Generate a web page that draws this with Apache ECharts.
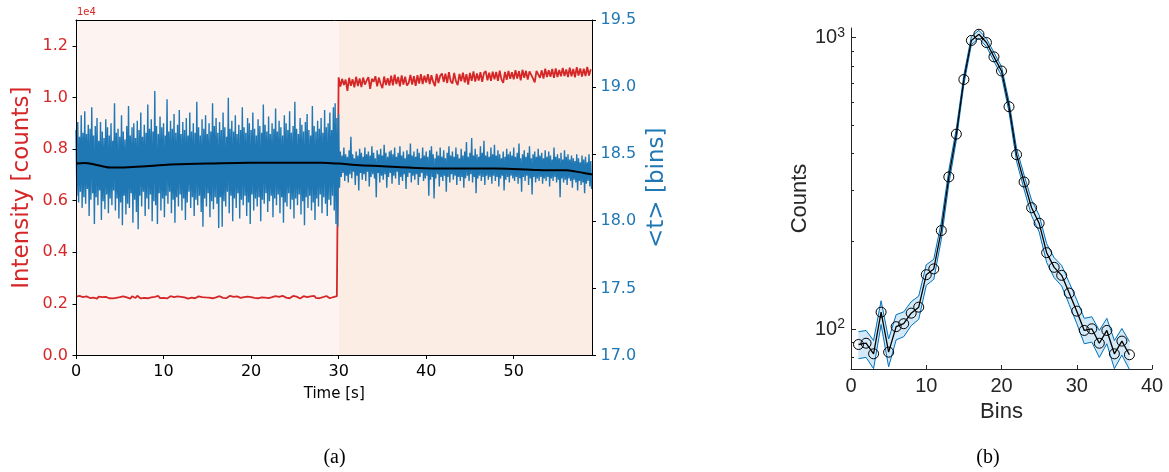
<!DOCTYPE html>
<html>
<head>
<meta charset="utf-8">
<script src="https://cdn.jsdelivr.net/npm/echarts@6.0.0/dist/echarts.min.js"></script>
<style>
html,body{margin:0;padding:0;background:#fff;}
#main{width:1169px;height:472px;}
</style>
</head>
<body>
<div id="main"></div>
<script>
// ---- panel (a) ----
var lifeStep = 0.1;   // s between <t> samples
var lifetime = [
 18.68,18.19,18.74,18.14,18.63,18.22,18.79,18.10,18.66,18.18,
 18.82,18.13,18.65,18.24,18.72,18.04,18.69,18.16,18.85,18.21,
 18.64,17.98,18.71,18.18,18.77,18.12,18.60,18.23,18.74,18.01,
 18.67,18.15,18.62,18.09,18.76,18.20,18.70,18.06,18.64,18.17,
 18.73,18.12,18.60,18.23,18.88,18.08,18.66,18.17,18.69,18.02,
 18.63,18.14,18.79,17.97,18.67,18.19,18.61,18.05,18.71,18.13,
 18.86,18.10,18.64,18.21,18.70,17.99,18.73,18.16,18.62,18.07,
 18.75,17.94,18.68,18.19,18.81,18.11,18.63,18.22,18.72,18.04,
 18.66,18.17,18.87,18.09,18.69,18.20,18.76,18.00,18.67,18.15,
 18.97,18.12,18.71,17.98,18.65,18.21,18.78,18.08,18.70,18.17,
 18.73,18.03,18.64,18.19,18.91,18.13,18.67,18.22,18.75,18.06,
 18.69,18.16,18.80,17.99,18.66,18.18,18.72,18.11,18.83,18.20,
 18.65,18.08,18.74,18.17,18.68,18.01,18.77,18.14,18.64,18.22,
 18.81,18.10,18.67,18.18,18.73,18.04,18.66,18.16,18.89,18.12,
 18.70,18.19,18.64,18.07,18.76,17.96,18.69,18.17,18.79,18.11,
 18.65,18.21,18.73,18.03,18.67,18.15,18.88,18.09,18.71,18.18,
 18.77,18.13,18.66,17.95,18.74,18.18,18.68,17.96,18.81,18.15,
 18.70,18.11,18.63,18.22,18.92,18.06,18.69,18.19,18.75,18.00,
 18.67,18.17,18.79,18.10,18.65,18.21,18.72,18.02,18.68,18.16,
 18.85,18.12,18.70,18.19,18.66,18.04,18.77,18.14,18.73,17.98,
 18.68,18.20,18.81,18.08,18.69,18.17,18.64,18.11,18.76,18.18,
 18.71,18.00,18.66,18.16,18.87,18.13,18.72,18.21,18.67,18.07,
 18.78,18.15,18.65,18.19,18.73,18.03,18.69,18.17,18.84,18.12,
 18.67,18.20,18.75,18.06,18.70,18.18,18.64,17.99,18.79,18.14,
 18.73,18.11,18.68,18.21,18.82,18.09,18.66,18.16,18.71,18.02,
 18.89,18.17,18.69,18.12,18.65,18.20,18.77,18.05,18.72,18.15,
 18.67,17.97,18.74,18.18,18.80,18.10,18.68,18.19,18.64,18.08,
 18.86,18.14,18.71,18.01,18.67,18.17,18.75,18.11,18.69,18.20,
 18.77,18.06,18.66,18.18,18.83,18.13,18.70,18.04,18.73,18.16,
 18.81,18.12,18.68,18.19,18.85,18.08,18.88,17.98,18.77,17.96,
 18.80,18.25,18.52,18.33,18.49,18.36,18.55,18.30,18.50,18.34,
 18.48,18.29,18.53,18.35,18.63,18.32,18.50,18.37,18.47,18.27,
 18.52,18.34,18.49,18.23,18.54,18.36,18.51,18.31,18.48,18.35,
 18.55,18.30,18.50,18.37,18.52,18.26,18.49,18.33,18.56,18.35,
 18.51,18.32,18.47,18.18,18.53,18.36,18.50,18.29,18.54,18.34,
 18.49,18.31,18.57,18.35,18.51,18.25,18.48,18.33,18.52,18.36,
 18.53,18.28,18.50,18.34,18.55,18.32,18.48,18.37,18.51,18.27,
 18.56,18.33,18.49,18.30,18.52,18.35,18.47,18.24,18.53,18.33,
 18.50,18.36,18.58,18.29,18.49,18.34,18.52,18.31,18.48,18.35,
 18.54,18.27,18.51,18.33,18.47,18.36,18.55,18.30,18.49,18.32,
 18.52,18.34,18.48,18.19,18.53,18.31,18.56,18.33,18.50,18.17,
 18.47,18.32,18.52,18.35,18.49,18.26,18.55,18.33,18.48,18.30,
 18.53,18.34,18.47,18.22,18.51,18.33,18.56,18.29,18.49,18.35,
 18.52,18.31,18.48,18.34,18.55,18.27,18.50,18.33,18.47,18.30,
 18.54,18.33,18.49,18.25,18.52,18.32,18.59,18.34,18.48,18.30,
 18.51,18.35,18.62,18.29,18.49,18.33,18.54,18.21,18.50,18.32,
 18.48,18.34,18.56,18.30,18.51,18.33,18.60,18.27,18.49,18.34,
 18.52,18.31,18.48,18.33,18.55,18.28,18.50,18.34,18.57,18.30,
 18.49,18.33,18.53,18.26,18.50,18.32,18.47,18.34,18.52,18.23,
 18.48,18.31,18.54,18.33,18.50,18.29,18.52,18.34,18.49,18.32,
 18.55,18.30,18.48,18.33,18.51,18.28,18.58,18.32,18.47,18.22,
 18.50,18.33,18.53,18.30,18.48,18.34,18.51,18.27,18.56,18.32,
 18.47,18.20,18.50,18.33,18.52,18.29,18.48,18.32,18.54,18.30,
 18.49,18.33,18.51,18.28,18.47,18.32,18.53,18.30,18.48,18.33,
 18.52,18.26,18.49,18.32,18.46,18.30,18.55,18.33,18.48,18.29,
 18.50,18.31,18.47,18.18,18.51,18.32,18.46,18.29,18.53,18.31,
 18.48,18.27,18.50,18.32,18.46,18.30,18.49,18.25,18.47,18.31,
 18.45,18.29,18.50,18.23,18.47,18.30,18.44,18.27,18.49,18.29,
 18.46,18.21,18.48,18.28,18.44,18.30,18.50,18.26,18.45,18.24
];

var intensityStep = 0.2;   // s between intensity samples
var intensity = [
 2282,2218,2306,2234,2266,2194,2290,2250,2226,2298,
 2242,2274,2202,2282,2234,2258,2186,2274,2242,2218,
 2266,2210,2282,2234,2194,2258,2242,2290,2218,2250,
 2274,2202,2298,2242,2226,2314,2250,2210,2282,2234,
 2258,2218,2290,2250,2202,2274,2242,2306,2226,2266,
 2234,2282,2210,2258,2298,2234,2266,2218,2290,2250,
 2274,2226,2250,2298,2202,2266,2242,2282,2218,2258,
 2290,2234,2266,2194,2250,2306,2242,2274,2218,2282,
 2250,2210,2298,2258,2234,2282,2226,2266,2314,2242,
 2274,2218,2290,2250,2234,2298,2258,2210,2282,2242,
 2266,2322,2234,2274,2218,2290,2250,2306,2242,2266,
 2226,2282,2258,2210,2298,2250,2274,2234,2314,2258,
 2242,2290,2218,2266,2306,2234,2282,2250,2210,2274,
 2298,2242,2266,2226,2290,2250,2314,2234,2274,2218,
 2282,2258,2234,2306,2250,2218,2290,2266,2242,2298,
 10780,10420,10720,10480,10690,10250,10760,10450,10700,10390,
 10800,10440,10740,10400,10770,10500,10650,10790,10330,10720,
 10610,10820,10430,10770,10520,10360,10810,10480,10740,10460,
 10840,10470,10880,10520,10790,10430,10850,10500,10800,10460,
 10560,10870,10500,10820,10450,10860,10540,10900,10520,10840,
 10580,10900,10520,10860,10600,10440,10910,10560,10840,10930,
 10600,10920,10560,10980,10620,10540,10950,10630,10480,10910,
 10630,10960,10580,10900,10500,10950,10640,11010,10610,10930,
 10650,10980,10600,10940,11020,10660,10960,10640,11000,10700,
 10990,10640,11040,10700,10560,10990,10680,11030,10720,10980,
 10700,11060,10730,11020,10660,11070,10760,11030,10690,11010,
 11060,10740,10580,11030,11090,10760,11050,10730,11110,10790,
 11050,10800,11100,10760,11120,10790,11060,10820,11140,10830,
 11080,10790,11150,10820,11100,10780,11170,10850,11120,10810,
 11110,10830,11180,10850,11090
];

// smoothed <t> trend, [time, bins]
var trend = [
 [0,18.43],[1,18.435],[2,18.425],[3,18.41],[4,18.40],[5,18.40],[6,18.402],
 [8,18.41],[10,18.42],[15,18.43],[20,18.437],[25,18.437],[28,18.436],
 [30,18.43],[32,18.42],[35,18.41],[38,18.40],[42,18.393],[48,18.393],
 [52,18.385],[54,18.38],[56,18.38],[57,18.372],[58,18.36],[59,18.348]
];

var regionNames = ['NE10A', 'NENIR40A-C'];
var regionEdges = [0, 30, 59];
var regionColors = ['#fdf4f1', '#fbede4'];

// ---- panel (b) ----
var bins = [1,2,3,4,5,6,7,8,9,10,11,12,13,14,15,16,17,18,19,20,21,22,23,24,25,26,27,28,29,30,31,32,33,34,35,36,37];
var counts = [88.6,89.5,82.3,114.4,83.4,102,104.4,113.5,119,153.8,161,218,333,467,719,979,1028,963,860,769,580,397,320,261,231,183,163,153,133,115.3,99,100.3,89.5,99,82.3,91,81.7];
var countsLow = [79.2,80.0,73.2,103.7,74.3,91.9,94.2,102.8,108.1,141.4,148.3,203.2,314.8,445.4,692.2,947.7,995.9,932.0,830.7,741.3,555.9,377.1,302.1,244.8,215.8,169.5,150.2,140.6,121.5,104.6,89.1,90.3,80.0,89.1,73.2,81.5,72.7];
var countsHigh = [98.0,99.0,91.4,125.1,92.5,112.1,114.6,124.2,129.9,166.2,173.7,232.8,351.2,488.6,745.8,1010.3,1060.1,994.0,889.3,796.7,604.1,416.9,337.9,277.2,246.2,196.5,175.8,165.4,144.5,126.0,108.9,110.3,99.0,108.9,91.4,100.5,90.7];

var red = '#d62728', blue = '#1f77b4', mblue = '#0072bd';
var dv = 'DejaVu Sans', lib = 'Liberation Sans';

var lifeData = lifetime.map(function (v, i) { return [+(i * lifeStep).toFixed(1), v]; });
var intData = intensity.map(function (v, i) { return [+(i * intensityStep).toFixed(1), v]; });
var areas = regionNames.map(function (n, i) {
    return [{ xAxis: regionEdges[i], itemStyle: { color: regionColors[i], opacity: 1 } }, { xAxis: regionEdges[i + 1] }];
});
var pair = function (ys) { return bins.map(function (b, i) { return [b, ys[i]]; }); };

// shaded band between low and high, one quad per bin step
function bandItem(params, api) {
    var i = params.dataIndex;
    if (i >= bins.length - 1) return null;
    var pts = [
        api.coord([bins[i], countsLow[i]]),
        api.coord([bins[i + 1], countsLow[i + 1]]),
        api.coord([bins[i + 1], countsHigh[i + 1]]),
        api.coord([bins[i], countsHigh[i]])
    ];
    return {
        type: 'polygon',
        shape: { points: pts },
        style: { fill: '#d3e9f7', stroke: '#d3e9f7', lineWidth: 0.5 }
    };
}

var chart = echarts.init(document.getElementById('main'), null, { renderer: 'canvas' });
var option = {
    animation: false,
    backgroundColor: '#fff',
    grid: [
        { left: 76, top: 20, width: 516.5, height: 335.5 },
        { left: 851, top: 28, width: 301, height: 341 }
    ],
    xAxis: [
        {
            gridIndex: 0, type: 'value', min: 0, max: 59, position: 'bottom', z: 10,
            axisLine: { show: true, onZero: false, lineStyle: { color: '#000', width: 1 } },
            axisTick: { length: 3.5, lineStyle: { color: '#000' }, customValues: [0, 10, 20, 30, 40, 50] },
            axisLabel: { color: '#000', fontSize: 16, fontFamily: dv, margin: 8, customValues: [0, 10, 20, 30, 40, 50] },
            splitLine: { show: false },
            name: 'Time [s]', nameLocation: 'middle', nameGap: 31,
            nameTextStyle: { color: '#000', fontSize: 15, fontFamily: dv }
        },
        {
            gridIndex: 0, type: 'value', min: 0, max: 59, position: 'top', z: 10,
            axisLine: { show: true, onZero: false, lineStyle: { color: '#000', width: 1 } },
            axisTick: { show: false }, axisLabel: { show: false }, splitLine: { show: false }
        },
        {
            gridIndex: 1, type: 'value', min: 0, max: 40, interval: 10,
            axisLine: { show: true, onZero: false, lineStyle: { color: '#262626', width: 1 } },
            axisTick: { inside: true, length: 4, lineStyle: { color: '#262626' } },
            axisLabel: { color: '#262626', fontSize: 20, fontFamily: lib, margin: 7 },
            splitLine: { show: false },
            name: 'Bins', nameLocation: 'middle', nameGap: 29,
            nameTextStyle: { color: '#262626', fontSize: 22, fontFamily: lib }
        }
    ],
    yAxis: [
        {
            gridIndex: 0, type: 'value', min: 0, max: 13000, interval: 2000, z: 10,
            axisLine: { show: true, onZero: false, lineStyle: { color: '#000', width: 1 } },
            axisTick: { show: true, length: 3.5, lineStyle: { color: '#000' }, customValues: [0, 2000, 4000, 6000, 8000, 10000, 12000] },
            axisLabel: {
                color: red, fontSize: 16, fontFamily: dv, margin: 8,
                customValues: [0, 2000, 4000, 6000, 8000, 10000, 12000],
                formatter: function (v) { return (v / 1e4).toFixed(1); }
            },
            splitLine: { show: false },
            name: 'Intensity [counts]', nameLocation: 'middle', nameGap: 42, nameRotate: 90,
            nameTextStyle: { color: red, fontSize: 23, fontFamily: dv }
        },
        {
            gridIndex: 0, type: 'value', position: 'right', min: 17, max: 19.5, interval: 0.5, z: 10,
            axisLine: { show: true, onZero: false, lineStyle: { color: '#000', width: 1 } },
            axisTick: { show: true, length: 3.5, lineStyle: { color: '#000' } },
            axisLabel: { color: blue, fontSize: 16, fontFamily: dv, margin: 8, formatter: function (v) { return v.toFixed(1); } },
            splitLine: { show: false },
            name: '<t> [bins]', nameLocation: 'middle', nameGap: 53, nameRotate: 90,
            nameTextStyle: { color: blue, fontSize: 23, fontFamily: dv }
        },
        {
            gridIndex: 1, type: 'log', logBase: 10, min: 73, max: 1080,
            axisLine: { show: true, onZero: false, lineStyle: { color: '#262626', width: 1 } },
            axisTick: { show: true, inside: true, length: 5, lineStyle: { color: '#262626' }, customValues: [100, 1000] },
            minorTick: { show: true, splitNumber: 9, length: 3, lineStyle: { color: '#262626' } },
            axisLabel: {
                customValues: [100, 1000], margin: 6,
                formatter: function (v) { return '{b|10}{s|' + Math.round(Math.log10(v)) + '}'; },
                rich: {
                    b: { fontSize: 20, fontFamily: lib, color: '#262626' },
                    s: { fontSize: 14, fontFamily: lib, color: '#262626', padding: [0, 0, 10, 0] }
                }
            },
            splitLine: { show: false },
            name: 'Counts', nameLocation: 'middle', nameGap: 40, nameRotate: 90,
            nameTextStyle: { color: '#262626', fontSize: 22, fontFamily: lib }
        }
    ],
    series: [
        {
            name: 'regions', type: 'line', xAxisIndex: 0, yAxisIndex: 0, data: [], z: 0,
            markArea: { silent: true, data: areas }
        },
        {
            name: 'Intensity', type: 'line', xAxisIndex: 0, yAxisIndex: 0, data: intData, z: 2,
            symbol: 'none', lineStyle: { color: red, width: 1.8 }
        },
        {
            name: '<t>', type: 'line', xAxisIndex: 0, yAxisIndex: 1, data: lifeData, z: 3,
            symbol: 'none', sampling: null, lineStyle: { color: blue, width: 1.4 }
        },
        {
            name: 'trend', type: 'line', xAxisIndex: 0, yAxisIndex: 1, data: trend, z: 4,
            symbol: 'none', smooth: 0.4, lineStyle: { color: '#000', width: 2 }
        },
        {
            name: 'band', type: 'custom', xAxisIndex: 2, yAxisIndex: 2, z: 1, clip: true,
            data: bins.map(function (b, i) { return [b, countsLow[i], countsHigh[i]]; }),
            encode: { x: 0, y: [1, 2] },
            renderItem: bandItem
        },
        {
            name: 'low', type: 'line', xAxisIndex: 2, yAxisIndex: 2, data: pair(countsLow),
            symbol: 'none', lineStyle: { color: mblue, width: 1 }, z: 2
        },
        {
            name: 'high', type: 'line', xAxisIndex: 2, yAxisIndex: 2, data: pair(countsHigh),
            symbol: 'none', lineStyle: { color: mblue, width: 1 }, z: 2
        },
        {
            name: 'Counts', type: 'line', xAxisIndex: 2, yAxisIndex: 2, data: pair(counts), z: 3,
            symbol: 'circle', symbolSize: 10, showSymbol: true,
            itemStyle: { color: 'rgba(0,0,0,0)', borderColor: '#000', borderWidth: 1 },
            lineStyle: { color: '#000', width: 1.3 }
        }
    ],
    graphic: [
        { type: 'text', x: 77, y: 7, style: { text: '1e4', fill: red, font: '10px "DejaVu Sans"' } },
        { type: 'text', x: 179, y: 47, style: { text: regionNames[0], fill: '#000', font: '14px "Liberation Sans"', align: 'center', verticalAlign: 'middle', textAlign: 'center', textVerticalAlign: 'middle' } },
        { type: 'text', x: 460, y: 47, style: { text: regionNames[1], fill: '#000', font: '14px "Liberation Sans"', align: 'center', verticalAlign: 'middle', textAlign: 'center', textVerticalAlign: 'middle' } },
        { type: 'text', x: 334.5, y: 458, style: { text: '(a)', fill: '#000', font: '20px "Liberation Serif"', align: 'center', verticalAlign: 'middle', textAlign: 'center', textVerticalAlign: 'middle' } },
        { type: 'text', x: 988, y: 458, style: { text: '(b)', fill: '#000', font: '20px "Liberation Serif"', align: 'center', verticalAlign: 'middle', textAlign: 'center', textVerticalAlign: 'middle' } }
    ]
};
chart.setOption(option);
window.addEventListener('resize', function () { chart.resize(); });
</script>
</body>
</html>
